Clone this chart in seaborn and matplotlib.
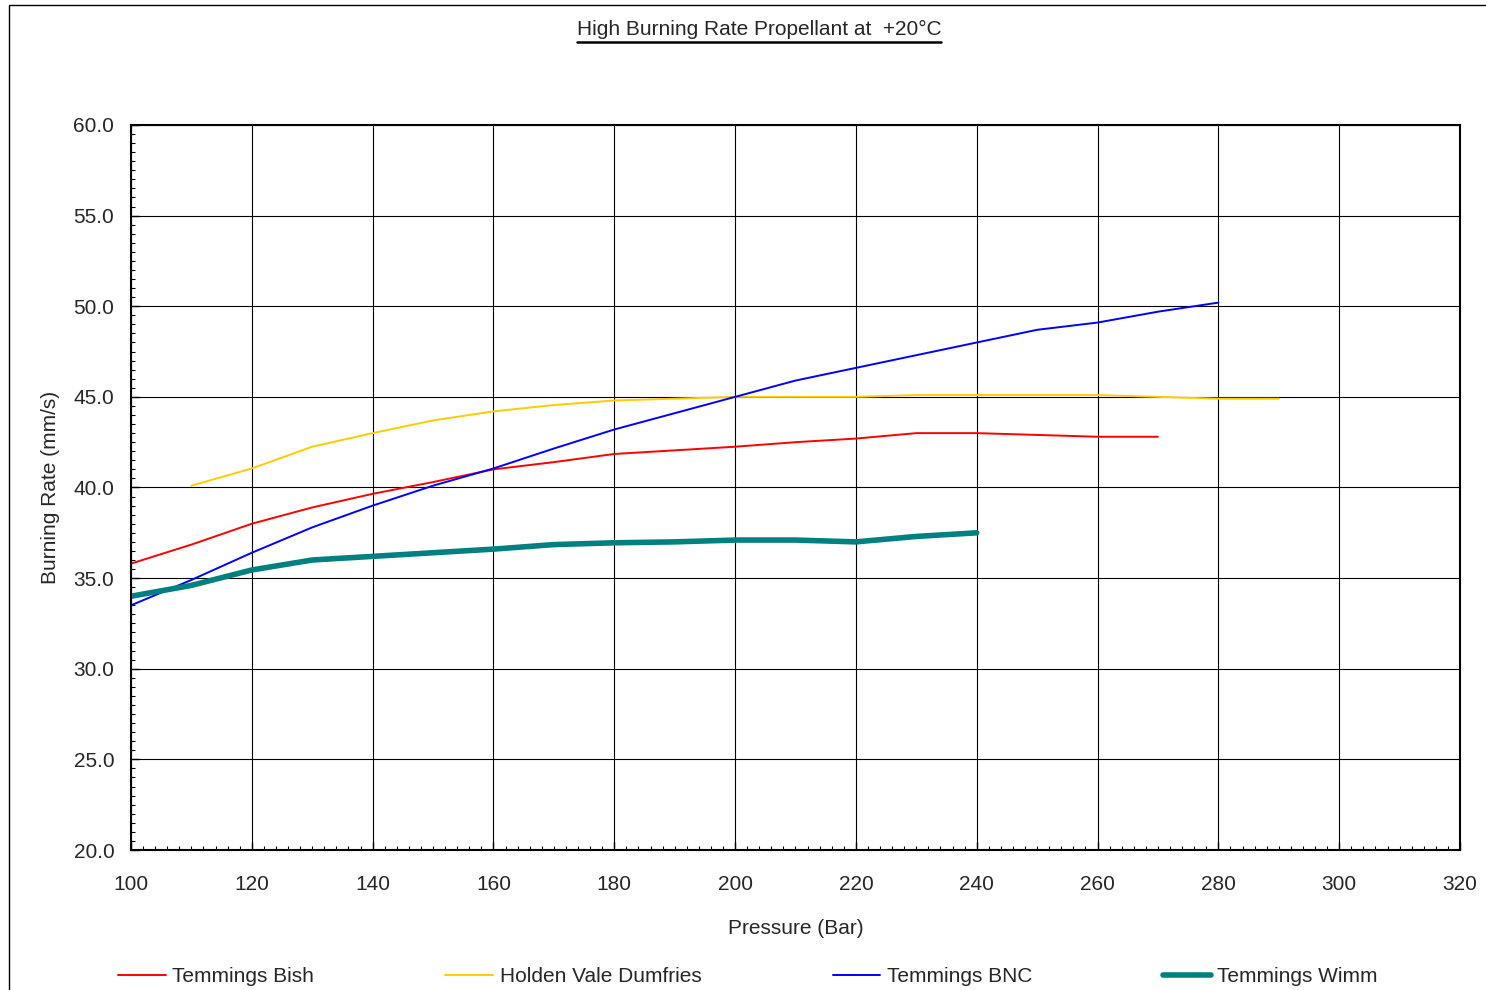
import matplotlib
matplotlib.use('Agg')
import matplotlib.pyplot as plt
from matplotlib.lines import Line2D
from matplotlib.patches import Rectangle
from matplotlib.ticker import MultipleLocator, FormatStrFormatter
import pandas as pd
import seaborn as sns

# %% data
pressure_bish = list(range(100, 271, 10))
rate_bish = [35.8, 36.85, 38.0, 38.9, 39.65, 40.3, 41.0, 41.4, 41.85, 42.05,
             42.25, 42.5, 42.7, 43.0, 43.0, 42.9, 42.8, 42.8]

pressure_holden = list(range(110, 291, 10))
rate_holden = [40.1, 41.05, 42.25, 43.0, 43.7, 44.2, 44.55, 44.8, 44.9, 45.0,
               45.0, 45.0, 45.1, 45.1, 45.1, 45.1, 45.0, 44.9, 44.9]

pressure_bnc = list(range(100, 281, 10))
rate_bnc = [33.5, 34.9, 36.4, 37.8, 39.0, 40.1, 41.05, 42.15, 43.2, 44.1,
            45.0, 45.9, 46.6, 47.3, 48.0, 48.7, 49.1, 49.7, 50.2]

pressure_wimm = list(range(100, 241, 10))
rate_wimm = [34.0, 34.6, 35.45, 36.0, 36.2, 36.4, 36.6, 36.85, 36.95, 37.0,
             37.1, 37.1, 37.0, 37.3, 37.5]

series_names = ['Temmings Bish', 'Holden Vale Dumfries', 'Temmings BNC', 'Temmings Wimm']
series_colors = ['#FF0000', '#FFCC00', '#0000FF', '#008080']
series_widths = [1.4, 1.4, 1.4, 4.0]

# %% plot
sns.set_style('white')
plt.rcParams['font.family'] = ['Liberation Sans', 'DejaVu Sans']
plt.rcParams['font.size'] = 15

fig = plt.figure(figsize=(14.86, 9.9), dpi=100)
ax = fig.add_axes([131 / 1486, 1 - 850 / 990, (1460 - 131) / 1486, (850 - 125) / 990])

data = [(pressure_bish, rate_bish), (pressure_holden, rate_holden),
        (pressure_bnc, rate_bnc), (pressure_wimm, rate_wimm)]
for (x, y), name, color, lw in zip(data, series_names, series_colors, series_widths):
    df = pd.DataFrame({'Pressure': x, 'Rate': y})
    sns.lineplot(data=df, x='Pressure', y='Rate', ax=ax, color=color, linewidth=lw, label=name)

ax.set_xlim(100, 320)
ax.set_ylim(20, 60)
ax.xaxis.set_major_locator(MultipleLocator(20))
ax.xaxis.set_minor_locator(MultipleLocator(2))
ax.yaxis.set_major_locator(MultipleLocator(5))
ax.yaxis.set_minor_locator(MultipleLocator(0.5))
ax.yaxis.set_major_formatter(FormatStrFormatter('%.1f'))
ax.grid(True, which='major', color='black', linewidth=0.8)
ax.tick_params(which='major', direction='in', length=6, width=1, color='black', labelsize=15, pad=12)
ax.tick_params(which='minor', direction='in', length=3, width=0.8, color='black')
ax.tick_params(axis='x', which='both', bottom=True, top=False)
ax.tick_params(axis='y', which='both', left=True, right=False)
ax.tick_params(axis='x', pad=18)
for s in ax.spines.values():
    s.set_color('black')
    s.set_linewidth(1.5)

ax.set_xlabel('Pressure (Bar)', fontsize=15, labelpad=18)
ax.set_ylabel('Burning Rate (mm/s)', fontsize=15, labelpad=10)

handles, labels = ax.get_legend_handles_labels()
ax.get_legend().remove()
fig.legend(handles, labels, loc='center', bbox_to_anchor=(748 / 1486, 1 - 977 / 990),
           ncol=4, frameon=False, fontsize=15, handlelength=2.3, handletextpad=0.3,
           columnspacing=6.3)

title = fig.text(759 / 1486, 1 - 29 / 990, 'High Burning Rate Propellant at  +20°C',
                 ha='center', va='center', fontsize=15)

# underline the title
fig.canvas.draw()
bb = title.get_window_extent().transformed(fig.transFigure.inverted())
uy = bb.y0 - 3 / 990
fig.add_artist(Line2D([bb.x0, bb.x1], [uy, uy], transform=fig.transFigure, color='black', linewidth=1.8))

# outer frame of the chart area
fig.add_artist(Rectangle((9 / 1486, -0.1), 2, 0.1 + 1 - 5 / 990, transform=fig.transFigure,
                         fill=False, edgecolor='black', linewidth=1))

fig.savefig('out.png', dpi=100)
